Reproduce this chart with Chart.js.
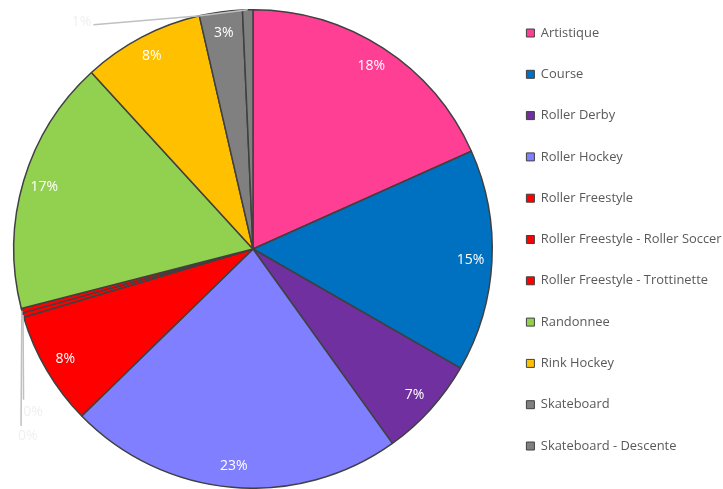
<!doctype html>
<html>
  <head>
    <meta charset="utf-8" />
    <title>Disciplines</title>
    <script src="https://cdn.jsdelivr.net/npm/chart.js@4.4.1/dist/chart.umd.min.js"></script>
    <style>
      html, body { margin: 0; padding: 0; background: #fff; }
      #wrap { position: relative; width: 723px; height: 489px; }
    </style>
  </head>
  <body>
    <div id="wrap"><canvas id="myChart"></canvas></div>
    <script>
      const labels = [
        'Artistique', 'Course', 'Roller Derby', 'Roller Hockey', 'Roller Freestyle',
        'Roller Freestyle - Roller Soccer', 'Roller Freestyle - Trottinette',
        'Randonnee', 'Rink Hockey', 'Skateboard', 'Skateboard - Descente'
      ];
      const shares = [18.3, 15.0, 6.8, 22.6, 7.7, 0.3, 0.3, 17.2, 8.2, 2.9, 0.7];
      const colors = [
        '#FF3F94', '#0070C0', '#7030A0', '#7F7FFF', '#FF0000',
        '#FF0000', '#FF0000', '#92D050', '#FFC000', '#808080', '#808080'
      ];

      const FONT = '"Open Sans", "Noto Sans", sans-serif';

      // percent labels, small slices get a leader line
      const pctLabels = {
        id: 'pctLabels',
        afterDatasetsDraw(chart) {
          const ctx = chart.ctx;
          const arcs = chart.getDatasetMeta(0).data;
          const total = shares.reduce((a, b) => a + b, 0);
          ctx.save();
          ctx.font = '14px ' + FONT;
          ctx.textAlign = 'center';
          ctx.textBaseline = 'middle';
          let small = 0;
          arcs.forEach((arc, i) => {
            const p = arc.getProps(['x', 'y', 'startAngle', 'endAngle', 'outerRadius'], true);
            const mid = (p.startAngle + p.endAngle) / 2;
            const txt = Math.round(shares[i] / total * 100) + '%';
            if (shares[i] >= 2) {
              const r = p.outerRadius * 0.91;
              ctx.fillStyle = '#ffffff';
              ctx.fillText(txt, p.x + Math.cos(mid) * r, p.y + Math.sin(mid) * r);
              return;
            }
            const R = p.outerRadius;
            const ex = p.x + Math.cos(mid) * R, ey = p.y + Math.sin(mid) * R;
            ctx.strokeStyle = '#c0c0c0';
            ctx.lineWidth = 1.5;
            ctx.beginPath();
            ctx.moveTo(ex, ey);
            let lx, ly;
            if (mid > Math.PI) {
              // near the top
              ctx.lineTo(p.x - R * 0.22, p.y - R * 0.975);
              ctx.lineTo(p.x - R * 0.667, p.y - R * 0.9375);
              lx = p.x - R * 0.717; ly = p.y - R * 0.95;
            } else {
              const yy = p.y + R * (small === 0 ? 0.63 : 0.74);
              ctx.lineTo(ex + (small === 0 ? 0.5 : -0.8), yy);
              lx = ex + (small === 0 ? 10 : 6); ly = yy + (small === 0 ? 12 : 10);
              small++;
            }
            ctx.stroke();
            ctx.fillStyle = '#f0f0f0';
            ctx.fillText(txt, lx, ly);
          });
          ctx.restore();
        }
      };

      // legend sits a bit above centre, pie a bit below, as in the original
      const shiftBoxes = {
        id: 'shiftBoxes',
        afterLayout(chart) {
          chart.legend.top -= 5;
          chart.legend.bottom -= 5;
          chart.chartArea.top += 9;
          chart.chartArea.height -= 9;
        }
      };

      new Chart(document.getElementById('myChart'), {
        type: 'pie',
        data: {
          labels: labels,
          datasets: [{
            data: shares,
            backgroundColor: colors,
            borderColor: '#404040',
            borderWidth: 1.5
          }]
        },
        options: {
          responsive: true,
          maintainAspectRatio: false,
          animation: false,
          layout: { padding: { top: 0, bottom: 0, left: 8, right: 0 } },
          plugins: {
            tooltip: { enabled: false },
            legend: {
              position: 'right',
              align: 'center',
              maxWidth: 225,
              labels: {
                boxWidth: 8,
                boxHeight: 8,
                padding: 28.4,
                color: '#595959',
                font: { family: FONT, size: 12.9 },
                generateLabels(chart) {
                  return labels.map((l, i) => ({
                    text: l,
                    fillStyle: colors[i],
                    strokeStyle: '#404040',
                    lineWidth: 1,
                    index: i,
                    fontColor: '#595959'
                  }));
                }
              }
            }
          }
        },
        plugins: [pctLabels, shiftBoxes]
      });
    </script>
  </body>
</html>
